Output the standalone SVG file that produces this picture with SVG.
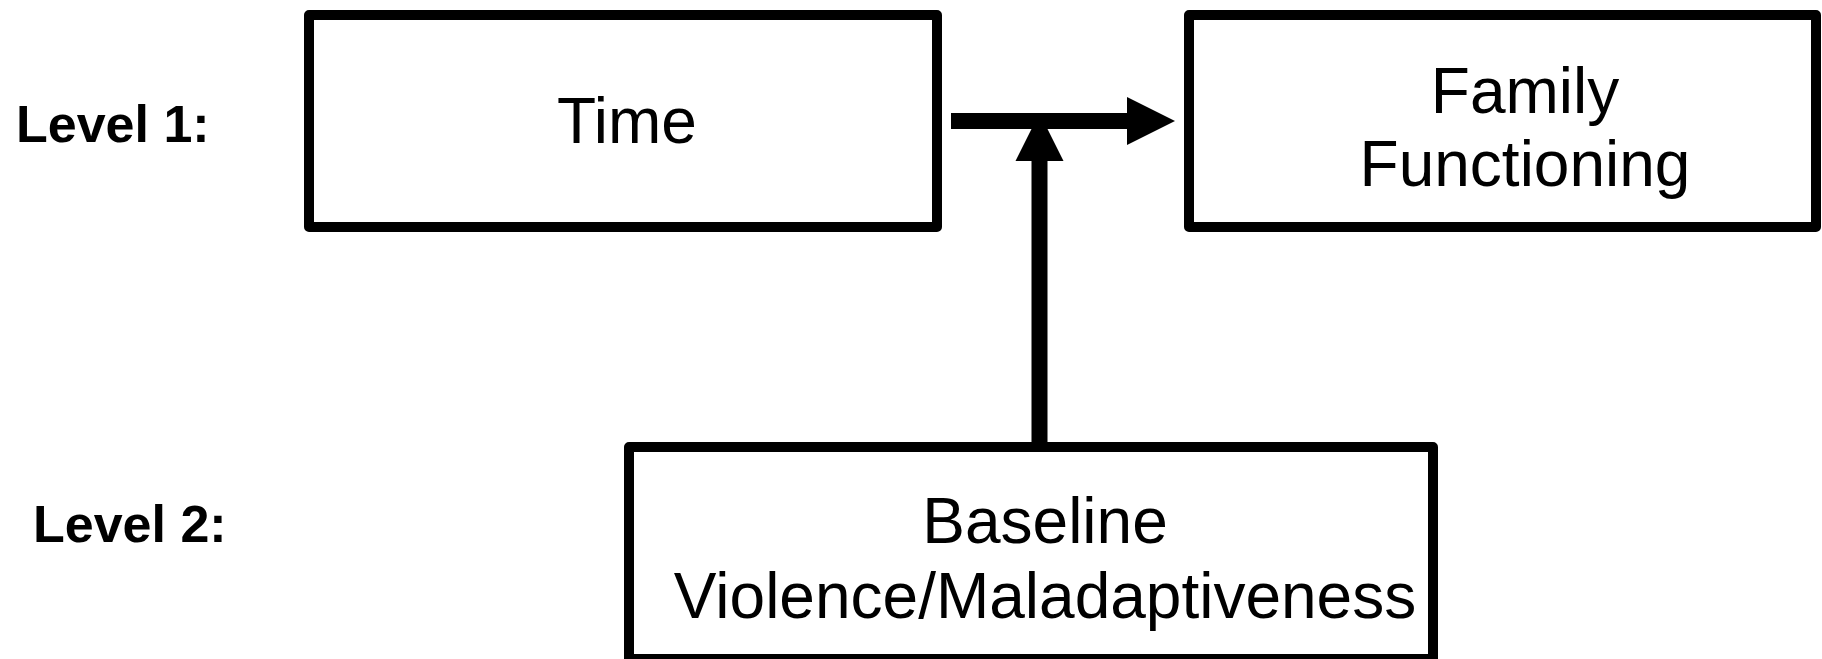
<svg xmlns="http://www.w3.org/2000/svg" width="1822" height="659" viewBox="0 0 1822 659">
  <style>
    .box { fill: #ffffff; stroke: #000000; stroke-width: 10; stroke-linejoin: round; }
    .lbl { font-family: "Liberation Sans", Arial, sans-serif; font-size: 64px; fill: #000000; text-anchor: middle; }
    .lvl { font-family: "Liberation Sans", Arial, sans-serif; font-size: 52px; font-weight: bold; fill: #000000; }
    .conn { fill: none; stroke: #000000; stroke-width: 16; stroke-linecap: butt; }
  </style>
  <defs>
    <marker id="arrow" markerUnits="userSpaceOnUse" markerWidth="48" markerHeight="48" refX="0" refY="24" orient="auto" viewBox="0 0 48 48" overflow="visible">
      <path d="M0,0 L48,24 L0,48 Z" fill="#000000"/>
    </marker>
  </defs>
  <rect width="1822" height="659" fill="#ffffff"/>

  <g id="level1-label">
    <text class="lvl" x="16" y="142">Level 1:</text>
  </g>
  <g id="level2-label">
    <text class="lvl" x="33" y="542">Level 2:</text>
  </g>

  <g id="node-time">
    <rect class="box" x="309" y="15" width="628" height="212"/>
    <text class="lbl" x="627" y="143">Time</text>
  </g>

  <g id="node-family">
    <rect class="box" x="1189" y="15" width="627" height="212"/>
    <text class="lbl" x="1525" y="113">Family</text>
    <text class="lbl" x="1525" y="186">Functioning</text>
  </g>

  <g id="node-baseline">
    <rect class="box" x="629" y="447" width="804" height="212"/>
    <text class="lbl" x="1045" y="543">Baseline</text>
    <text class="lbl" x="1045" y="618">Violence/Maladaptiveness</text>
  </g>

  <g id="connectors">
    <path class="conn" d="M951,121 L1127,121" marker-end="url(#arrow)"/>
    <path class="conn" d="M1039.5,442 L1039.5,161" marker-end="url(#arrow)"/>
  </g>
</svg>
